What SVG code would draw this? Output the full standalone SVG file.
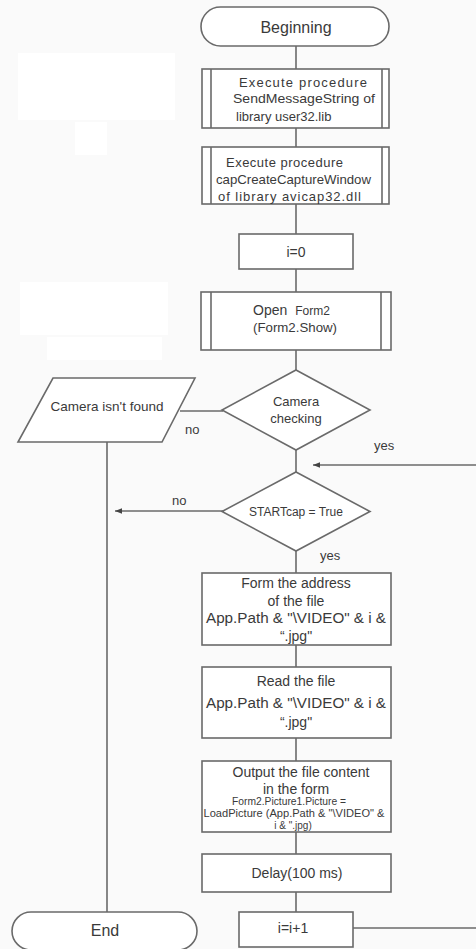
<svg xmlns="http://www.w3.org/2000/svg" width="476" height="949" viewBox="0 0 476 949">
<style>
.s{fill:#fff;stroke:#6a6a6a;stroke-width:1.6}
.c{fill:none;stroke:#6a6a6a;stroke-width:1.6}
.t{font-family:"Liberation Sans",Arial,sans-serif;fill:#3a3a3a;font-size:13px}
.m{text-anchor:middle}
.f10{font-size:10px}
.f12{font-size:12px}
.f14{font-size:14px}
.f16{font-size:16px}
</style>
<defs>
<marker id="ah" viewBox="0 0 10 10" refX="10" refY="5" markerWidth="9" markerHeight="7" markerUnits="userSpaceOnUse" orient="auto">
<path d="M0,1 L10,5 L0,9 Z" fill="#444"/>
</marker>
</defs>
<rect x="0" y="0" width="476" height="949" fill="#fafafa"/>
<g id="bg" fill="#ffffff">
<rect x="18" y="53" width="157" height="67"/>
<rect x="75" y="122" width="32" height="33"/>
<rect x="20" y="282" width="148" height="53"/>
<rect x="47" y="337" width="115" height="23"/>
</g>
<g id="connectors">
<line class="c" x1="296" y1="46" x2="296" y2="69"/>
<line class="c" x1="296" y1="128" x2="296" y2="147"/>
<line class="c" x1="296" y1="204" x2="296" y2="234"/>
<line class="c" x1="296" y1="269" x2="296" y2="292"/>
<line class="c" x1="296" y1="350" x2="296" y2="370"/>
<line class="c" x1="223" y1="411" x2="180" y2="411"/>
<line class="c" x1="296" y1="450" x2="296" y2="472"/>
<line class="c" x1="476" y1="465" x2="313" y2="465" marker-end="url(#ah)"/>
<line class="c" x1="223" y1="511" x2="115" y2="511" marker-end="url(#ah)"/>
<line class="c" x1="107" y1="442" x2="107" y2="912"/>
<line class="c" x1="296" y1="551" x2="296" y2="573"/>
<line class="c" x1="296" y1="645" x2="296" y2="667"/>
<line class="c" x1="296" y1="738" x2="296" y2="761"/>
<line class="c" x1="296" y1="832" x2="296" y2="854"/>
<line class="c" x1="296" y1="892" x2="296" y2="912"/>
<line class="c" x1="353" y1="928" x2="476" y2="928"/>
<text class="t" x="185" y="434">no</text>
<text class="t" x="374" y="450">yes</text>
<text class="t" x="172" y="505">no</text>
<text class="t" x="320" y="560">yes</text>
</g>
<g id="begin">
<rect class="s" x="201" y="7" width="188" height="39" rx="19.5"/>
<text class="t m f16" x="296" y="33">Beginning</text>
</g>
<g id="proc1">
<rect class="s" x="202" y="69" width="187" height="59"/>
<line class="c" x1="211" y1="69" x2="211" y2="128"/>
<line class="c" x1="382" y1="69" x2="382" y2="128"/>
<text class="t" x="239" y="87" textLength="128" lengthAdjust="spacing">Execute procedure</text>
<text class="t" x="233" y="103" textLength="142" lengthAdjust="spacingAndGlyphs">SendMessageString of</text>
<text class="t" x="236" y="121">library user32.lib</text>
</g>
<g id="proc2">
<rect class="s" x="202" y="147" width="187" height="57"/>
<line class="c" x1="211" y1="147" x2="211" y2="204"/>
<line class="c" x1="382" y1="147" x2="382" y2="204"/>
<text class="t" x="226" y="167" textLength="117" lengthAdjust="spacing">Execute procedure</text>
<text class="t" x="216" y="184" textLength="155" lengthAdjust="spacingAndGlyphs">capCreateCaptureWindow</text>
<text class="t" x="218" y="201" textLength="143" lengthAdjust="spacing">of  library avicap32.dll</text>
</g>
<g id="i0">
<rect class="s" x="239" y="234" width="114" height="35"/>
<text class="t m f14" x="296" y="257">i=0</text>
</g>
<g id="openform">
<rect class="s" x="201" y="292" width="190" height="58"/>
<line class="c" x1="211" y1="292" x2="211" y2="350"/>
<line class="c" x1="381" y1="292" x2="381" y2="350"/>
<text class="t f14" x="253" y="315">Open <tspan class="f12" dx="4">Form2</tspan></text>
<text class="t f12" x="253" y="332" textLength="84" lengthAdjust="spacingAndGlyphs">(Form2.Show)</text>
</g>
<g id="camcheck">
<polygon class="s" points="296,370 370,410 296,450 222,410"/>
<text class="t m" x="296" y="406">Camera</text>
<text class="t m" x="296" y="423">checking</text>
</g>
<g id="notfound">
<polygon class="s" points="53,378 195,378 162,442 18,442"/>
<text class="t m" x="107" y="411" textLength="113" lengthAdjust="spacingAndGlyphs">Camera isn't found</text>
</g>
<g id="startcap">
<polygon class="s" points="296,472 370,511.5 296,551 222,511.5"/>
<text class="t m f12" x="296" y="516">STARTcap = True</text>
</g>
<g id="formaddr">
<rect class="s" x="202" y="573" width="189" height="72"/>
<text class="t m f14" x="296" y="588">Form the address</text>
<text class="t m f14" x="296" y="606">of the file</text>
<text class="t m f14" x="296" y="623" textLength="180" lengthAdjust="spacingAndGlyphs">App.Path &amp; "\VIDEO" &amp; i &amp;</text>
<text class="t m f14" x="296" y="641">“.jpg"</text>
</g>
<g id="readfile">
<rect class="s" x="202" y="667" width="189" height="71"/>
<text class="t m f14" x="296" y="686">Read the file</text>
<text class="t m f14" x="296" y="708" textLength="180" lengthAdjust="spacingAndGlyphs">App.Path &amp; "\VIDEO" &amp; i &amp;</text>
<text class="t m f14" x="296" y="727">“.jpg"</text>
</g>
<g id="output">
<rect class="s" x="202" y="761" width="189" height="71"/>
<text class="t m f14" x="301" y="777">Output the file content</text>
<text class="t m f14" x="296" y="794">in the form</text>
<text class="t m f10" x="289" y="805" textLength="114" lengthAdjust="spacingAndGlyphs">Form2.Picture1.Picture =</text>
<text class="t m f10" x="294" y="817" textLength="181" lengthAdjust="spacingAndGlyphs">LoadPicture (App.Path &amp; "\VIDEO" &amp;</text>
<text class="t m f10" x="293" y="829">i &amp; ".jpg)</text>
</g>
<g id="delay">
<rect class="s" x="202" y="854" width="189" height="38"/>
<text class="t m f14" x="297" y="878">Delay(100 ms)</text>
</g>
<g id="inc">
<rect class="s" x="239" y="912" width="114" height="35"/>
<text class="t m f14" x="293" y="933">i=i+1</text>
</g>
<g id="end">
<rect class="s" x="12" y="912" width="185" height="38" rx="19"/>
<text class="t m f16" x="105" y="936">End</text>
</g>
</svg>
